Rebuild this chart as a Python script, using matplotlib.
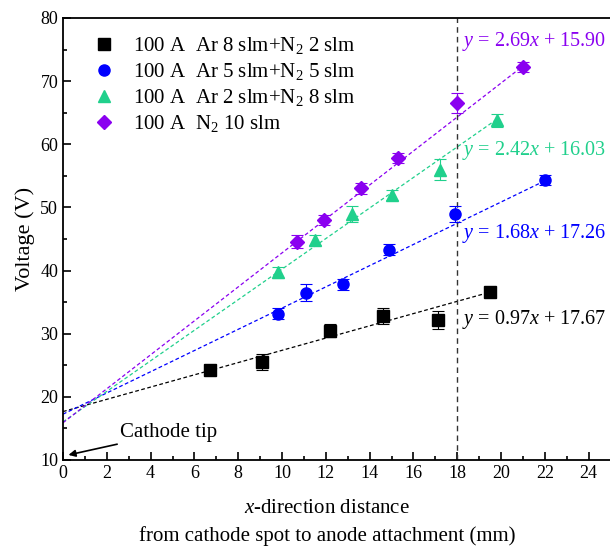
import matplotlib
matplotlib.use('Agg')
import matplotlib.pyplot as plt
from matplotlib.lines import Line2D
import numpy as np
from matplotlib.ticker import MultipleLocator

plt.rcParams['font.family'] = ['Liberation Serif', 'DejaVu Serif']
plt.rcParams['mathtext.fontset'] = 'custom'
plt.rcParams['mathtext.rm'] = 'Liberation Serif'
plt.rcParams['mathtext.it'] = 'Liberation Serif:italic'

# data
labels = ['100 A  Ar 8 slm+N$_2$ 2 slm', '100 A  Ar 5 slm+N$_2$ 5 slm',
          '100 A  Ar 2 slm+N$_2$ 8 slm', '100 A  N$_2$ 10 slm']
colors = ['black', '#0000ff', '#20d08c', '#8a00f0']
markers = ['s', 'o', '^', 'D']

x_ar8 = [6.7, 9.1, 12.2, 14.6, 17.1, 19.5]
v_ar8 = [24.2, 25.5, 30.5, 32.8, 32.2, 36.6]
e_ar8 = [0.8, 1.3, 1.0, 1.2, 1.4, 0.8]

x_ar5 = [9.8, 11.1, 12.8, 14.9, 17.9, 22.0]
v_ar5 = [33.2, 36.5, 37.8, 43.3, 49.0, 54.4]
e_ar5 = [0.9, 1.3, 0.8, 0.9, 1.3, 0.8]

x_ar2 = [9.8, 11.5, 13.2, 15.0, 17.2, 19.8]
v_ar2 = [39.7, 44.8, 49.0, 52.0, 56.0, 63.8]
e_ar2 = [0.8, 0.8, 1.3, 0.8, 1.7, 1.0]

x_n2 = [10.7, 11.9, 13.6, 15.3, 18.0, 21.0]
v_n2 = [44.6, 48.0, 53.0, 57.8, 66.5, 72.3]
e_n2 = [1.0, 0.8, 0.8, 0.8, 1.6, 0.8]

slopes = [0.97, 1.68, 2.42, 2.69]
intercepts = [17.67, 17.26, 16.03, 15.90]
eq_y = [32.3, 45.8, 59.0, 76.2]

xs = [x_ar8, x_ar5, x_ar2, x_n2]
vs = [v_ar8, v_ar5, v_ar2, v_n2]
es = [e_ar8, e_ar5, e_ar2, e_n2]

fig = plt.figure(figsize=(6.10, 5.56), dpi=100)
ax = fig.add_axes([63 / 610, 96 / 556, 552 / 610, 442 / 556])

handles = []
for i in range(4):
    ms = 8 if markers[i] != 'D' else 7
    ax.errorbar(xs[i], vs[i], yerr=es[i], fmt=markers[i], color=colors[i],
                ms=ms, capsize=4, elinewidth=0.8, capthick=0.8, zorder=3)
    xx = np.array([0, max(xs[i])])
    ax.plot(xx, slopes[i] * xx + intercepts[i], '--', color=colors[i],
            lw=0.9, dashes=(3, 2), zorder=2)
    ax.text(18.2, eq_y[i], '$y$ = %.2f$x$ + %.2f' % (slopes[i], intercepts[i]),
            color=colors[i], fontsize=14.5, va='center', ha='left')
    handles.append(Line2D([], [], ls='none', marker=markers[i], color=colors[i],
                          ms=ms, label=labels[i]))

ax.axvline(18, color='#333333', ls='--', lw=1.0, dashes=(4, 3))

ax.annotate('Cathode tip', xy=(0.25, 10.8), xytext=(2.6, 14.3),
            fontsize=15, va='center', ha='left',
            arrowprops=dict(arrowstyle='-|>', color='black', lw=1.2,
                            shrinkA=0, shrinkB=0, mutation_scale=10))

ax.set_xlim(0, 25.2)
ax.set_ylim(10, 80)
ax.xaxis.set_major_locator(MultipleLocator(2))
ax.xaxis.set_minor_locator(MultipleLocator(1))
ax.yaxis.set_major_locator(MultipleLocator(10))
ax.yaxis.set_minor_locator(MultipleLocator(5))
ax.tick_params(which='both', direction='in', labelsize=13, width=1.2)
ax.tick_params(which='major', length=6)
ax.tick_params(which='minor', length=3)
for s in ax.spines.values():
    s.set_linewidth(1.3)

ax.set_ylabel('Voltage (V)', fontsize=16, labelpad=4)
ax.set_xlabel('$x$-direction distance\nfrom cathode spot to anode attachment (mm)',
              fontsize=15, labelpad=12, x=(327 - 63) / 552, linespacing=1.6)

ax.legend(handles=handles, loc='upper left', frameon=False, fontsize=15,
          handletextpad=0.8, bbox_to_anchor=(0.025, 0.995), borderaxespad=0.3,
          labelspacing=0.25, handlelength=1.2)

fig.savefig('out.png', dpi=100)
